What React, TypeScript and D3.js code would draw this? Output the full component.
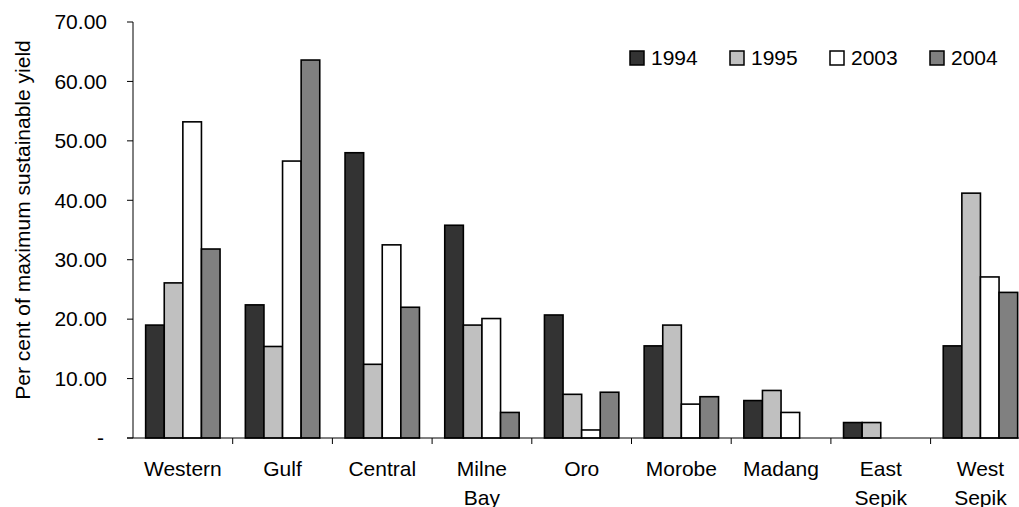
import React, { useEffect, useRef } from "react"
import * as d3 from "d3"

const categories = [["Western"], ["Gulf"], ["Central"], ["Milne", "Bay"], ["Oro"], ["Morobe"], ["Madang"], ["East", "Sepik"], ["West", "Sepik"]]
const years = ["1994", "1995", "2003", "2004"]
const yearColors = ["#333333", "#c0c0c0", "#ffffff", "#808080"]

const v1994 = [19.0, 22.4, 48.0, 35.8, 20.7, 15.5, 6.3, 2.6, 15.5]
const v1995 = [26.1, 15.4, 12.4, 19.0, 7.35, 19.0, 8.0, 2.6, 41.2]
const v2003 = [53.2, 46.6, 32.5, 20.1, 1.35, 5.7, 4.3, null, 27.1]
const v2004 = [31.8, 63.6, 22.0, 4.3, 7.7, 6.95, null, null, 24.5]
const yTicks = [0, 10, 20, 30, 40, 50, 60, 70]

export default function App() {
    const svgRef = useRef(null)

    useEffect(() => {
        const svg = d3.select(svgRef.current)
        svg.selectAll("*").remove()
        const font = "'Liberation Sans', Arial, sans-serif"
        const series = [v1994, v1995, v2003, v2004]
        const names = categories.map(c => c.join(" "))

        const x = d3.scaleBand().domain(names).range([133, 1030.3]).padding(0)
        const inner = d3.scaleBand().domain(years).range([0, x.bandwidth()]).paddingInner(0).paddingOuter(0.68)
        const y = d3.scaleLinear().domain([0, 70]).range([438, 22])

        // bars
        names.forEach((name, i) => {
            series.forEach((vals, j) => {
                const v = vals[i]
                if (v == null) return
                svg.append("rect")
                    .attr("x", x(name) + inner(years[j]))
                    .attr("y", y(v))
                    .attr("width", inner.bandwidth())
                    .attr("height", y(0) - y(v))
                    .attr("fill", yearColors[j])
                    .attr("stroke", "#000")
                    .attr("stroke-width", 1.6)
            })
        })

        // y axis
        const yAxis = svg.append("g").attr("transform", "translate(133,0)")
        yAxis.append("line").attr("x1", 0).attr("x2", 0).attr("y1", y(70)).attr("y2", y(0)).attr("stroke", "#000")
        yTicks.forEach(t => {
            yAxis.append("line").attr("x1", -6).attr("x2", 0).attr("y1", y(t)).attr("y2", y(t)).attr("stroke", "#000")
            yAxis.append("text")
                .attr("x", t === 0 ? -29 : -26).attr("y", y(t)).attr("dy", "0.35em")
                .attr("text-anchor", "end")
                .attr("font-family", font).attr("font-size", 21)
                .text(t === 0 ? "-" : d3.format(".2f")(t))
        })

        // x axis
        const xAxis = svg.append("g")
        xAxis.append("line").attr("x1", 127).attr("x2", 1030.3).attr("y1", y(0)).attr("y2", y(0)).attr("stroke", "#000")
        names.forEach((name, i) => {
            xAxis.append("line").attr("x1", x(name) + x.bandwidth()).attr("x2", x(name) + x.bandwidth())
                .attr("y1", y(0)).attr("y2", y(0) + 6).attr("stroke", "#000")
            categories[i].forEach((line, k) => {
                xAxis.append("text")
                    .attr("x", x(name) + x.bandwidth() / 2)
                    .attr("y", 476 + k * 29)
                    .attr("text-anchor", "middle")
                    .attr("font-family", font).attr("font-size", 21)
                    .text(line)
            })
        })

        svg.append("text")
            .attr("transform", "translate(30,220) rotate(-90)")
            .attr("text-anchor", "middle")
            .attr("font-family", font).attr("font-size", 21)
            .text("Per cent of maximum sustainable yield")

        // legend
        const legend = svg.append("g")
        years.forEach((yr, j) => {
            const lx = 630 + j * 100
            legend.append("rect").attr("x", lx).attr("y", 51).attr("width", 14).attr("height", 14)
                .attr("fill", yearColors[j]).attr("stroke", "#000").attr("stroke-width", 1.5)
            legend.append("text").attr("x", lx + 21).attr("y", 65)
                .attr("font-family", font).attr("font-size", 21)
                .text(yr)
        })
    }, [])

    return (
        <svg ref={svgRef} width={1019} height={507}
            style={{ position: "absolute", left: 0, top: 0, background: "#fff" }} />
    )
}
